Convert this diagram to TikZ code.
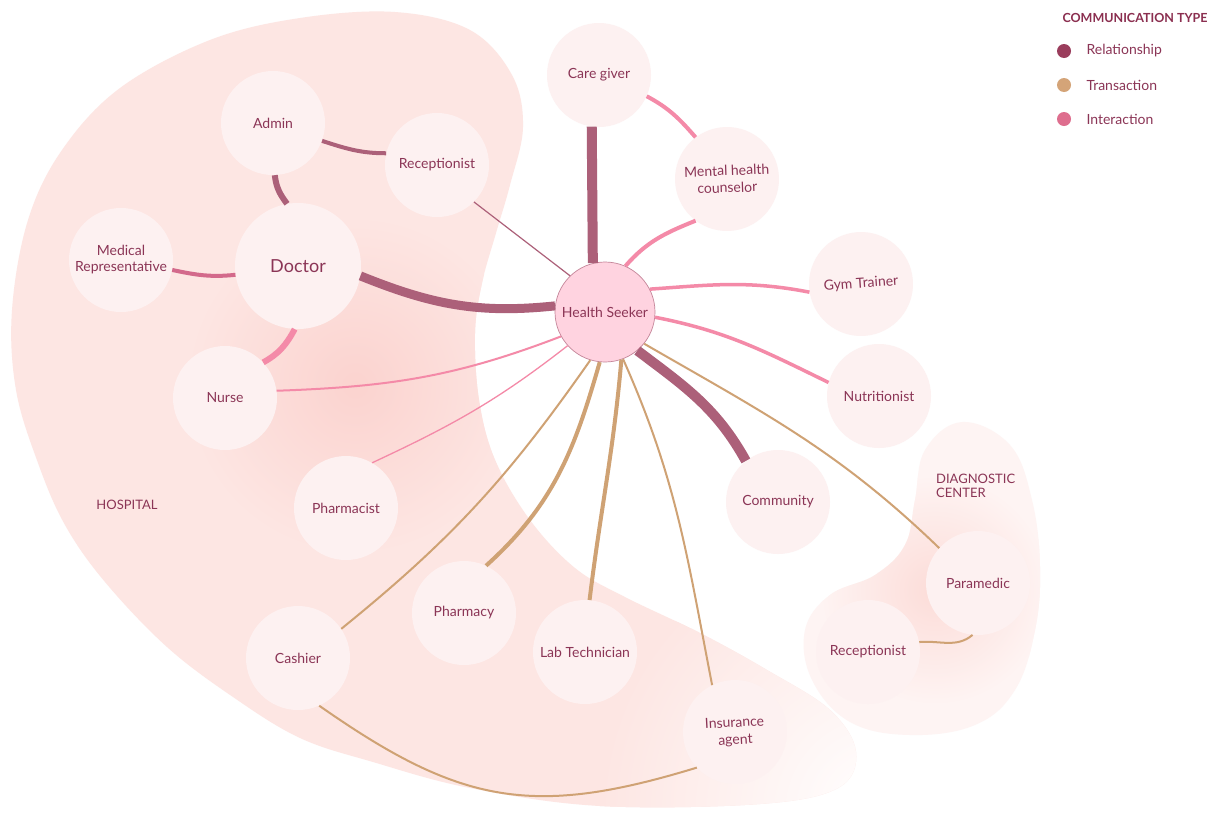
\documentclass[tikz,border=0pt]{standalone}
\usepackage{fontspec}
\setmainfont{Lato}
\usetikzlibrary{calc}
\definecolor{txt}{HTML}{8B3556}
\definecolor{titlec}{HTML}{8B2F50}
\definecolor{nodefill}{HTML}{FDF1F1}
\definecolor{hsfill}{HTML}{FFD3E0}
\definecolor{hsborder}{HTML}{C48599}
\definecolor{relc}{HTML}{AC6079}
\definecolor{transc}{HTML}{CFA274}
\definecolor{intc}{HTML}{F48AA8}
\definecolor{medc}{HTML}{D3698B}
\definecolor{legrel}{HTML}{9A3D5C}
\definecolor{legtrans}{HTML}{D4A478}
\definecolor{legint}{HTML}{DE6E8E}
\definecolor{hosp}{HTML}{FDE6E3}
\definecolor{hospdark}{HTML}{FBD3CF}
\definecolor{diag}{HTML}{FEF4F3}
\definecolor{diagdark}{HTML}{FCDCD8}
\begin{document}
\begin{tikzpicture}[x=1pt,y=1pt,
  person/.style={circle, fill=nodefill, minimum size=104pt, inner sep=0pt,
    text=txt, font=\fontsize{14}{16}\selectfont, align=center},
  rel/.style={draw=relc},
  trans/.style={draw=transc},
  inter/.style={draw=intc},
  legdot/.style={circle, minimum size=14pt, inner sep=0pt},
  legtext/.style={anchor=west, text=txt, font=\fontsize{14}{16}\selectfont},
  area/.style={text=txt, font=\fontsize{13}{14}\selectfont, align=left}]
\fill[white] (0,0) rectangle (1220,-812);
\useasboundingbox (0,0) rectangle (1220,-812);

% hospital blob
\def\hospblob{plot[smooth cycle, tension=0.6] coordinates {
 (395,-12) (470,-30) (512,-75) (523,-127) (510,-185) (496,-233) (482,-283)
 (475,-333) (479,-400) (495,-460) (530,-520) (575,-568) (625,-597) (700,-633)
 (767,-670) (830,-710) (856,-752) (838,-788) (760,-804) (600,-806) (470,-788)
 (373,-762) (300,-738) (233,-697) (167,-647) (105,-582) (65,-525) (38,-463)
 (16,-390) (12,-310) (28,-220) (62,-150) (120,-88) (210,-40) (300,-18)}}
\fill[hosp] \hospblob;
\begin{scope}
  \clip \hospblob;
  \shade[inner color=white, outer color=hosp] (880,-812) circle (280);
  \shade[inner color=hospdark, outer color=hosp] (355,-385) circle (170);
\end{scope}

% diagnostic blob
\def\diagblob{plot[smooth cycle, tension=0.65] coordinates {
 (962,-422) (1010,-445) (1032,-500) (1040,-567) (1035,-630) (1015,-690)
 (975,-725) (910,-735) (850,-722) (812,-680) (805,-630) (830,-595)
 (875,-575) (905,-545) (915,-500) (925,-450)}}
\fill[diag] \diagblob;
\begin{scope}
  \clip \diagblob;
  \shade[inner color=diagdark, outer color=diag] (935,-590) circle (115);
\end{scope}

% nodes
\node[person, fill=hsfill, draw=hsborder, line width=0.7pt, minimum size=100pt] (hs) at (605,-312) {Health Seeker};
\node[person] (cg) at (599,-75) {Care giver};
\node[person, rotate=2, font=\fontsize{14}{17}\selectfont] (mh) at (727,-179) {Mental health\\counselor};
\node[person, rotate=4] (gym) at (861,-284) {Gym Trainer};
\node[person] (nut) at (879,-396) {Nutritionist};
\node[person] (com) at (778,-502) {Community};
\node[person] (para) at (978,-583) {Paramedic};
\node[person] (rec2) at (868,-652) {Receptionist};
\node[person, rotate=3, font=\fontsize{14}{17}\selectfont] (ins) at (735,-732) {Insurance\\agent};
\node[person] (lab) at (585,-652) {Lab Technician};
\node[person] (phy) at (464,-613) {Pharmacy};
\node[person] (cash) at (298,-658) {Cashier};
\node[person] (phc) at (346,-508) {Pharmacist};
\node[person] (nur) at (225,-398) {Nurse};
\node[person, minimum size=126pt, font=\fontsize{18}{20}\selectfont] (doc) at (298,-266) {Doctor};
\node[person] (med) at (121,-260) {Medical\\Representative};
\node[person] (adm) at (273,-123) {Admin};
\node[person] (rec1) at (437,-165) {Receptionist};

% area labels
\node[area] (hlab) at (127,-505) {HOSPITAL};
\node[area, anchor=north west, inner sep=0pt] (dlab) at (936,-474) {DIAGNOSTIC\\CENTER};

% connectors
\draw[rel, line width=10pt] (cg.262) -- (hs.104);
\draw[inter, line width=4pt] (cg.-24) to[out=-28, in=131] (mh.125);
\draw[inter, line width=4pt] (mh.231) to[out=202, in=49] (hs.66);
\draw[inter, line width=3.5pt] (hs.27) to[out=4, in=169] (gym.185);
\draw[inter, line width=3.5pt] (hs.-6) to[out=-11, in=154] (nut.165);
\draw[rel, line width=10pt] (hs.-50) to[out=-37, in=119] (com.128);
\draw[trans, line width=2pt] (hs.-39) to[out=-30, in=136] (para.138);
\draw[trans, line width=2pt] (hs.-69) to[out=-66, in=101] (ins.113);
\draw[trans, line width=4pt] (hs.-71) to[out=-95, in=83] (lab.85);
\draw[trans, line width=4pt] (hs.-96) to[out=-106, in=42] (phy.65);
\draw[trans, line width=2pt] (hs.-107) to[out=-125, in=39] (cash.34);
\draw[inter, line width=1.3pt] (hs.222) to[out=218, in=25] (phc.60);
\draw[inter, line width=2pt] (hs.209) to[out=201, in=2] (nur.8);
\draw[rel, line width=9pt] (doc.-9) to[out=-22, in=186] (hs.173);
\draw[rel, line width=1.2pt] (rec1.-45) -- (hs.134);
\draw[rel, line width=4pt] (adm.-20) to[out=-18, in=180] (rec1.167);
\draw[rel, line width=6pt] (adm.-88) to[out=-84, in=127] (doc.100);
\draw[medc, line width=4pt] (med.-11) to[out=-12, in=186] (doc.188);
\draw[inter, line width=6pt] (doc.-93) to[out=242, in=29] (nur.43);
\draw[trans, line width=2pt] (cash.-66) to[out=-35, in=197, looseness=1.15] (ins.220);
\draw[trans, line width=2pt] (para.-96) to[out=-140, in=5] (rec2.11);

% legend
\node[anchor=west, text=titlec, font=\bfseries\fontsize{12.5}{14}\selectfont] (lt) at (1059,-18) {COMMUNICATION TYPE};
\node[legdot, fill=legrel] (d1) at (1064,-51) {};
\node[legdot, fill=legtrans] (d2) at (1064,-85) {};
\node[legdot, fill=legint] (d3) at (1064,-119) {};
\node[legtext] (l1) at (1083,-51) {Relationship};
\node[legtext] (l2) at (1083,-85) {Transaction};
\node[legtext] (l3) at (1083,-119) {Interaction};
\end{tikzpicture}
\end{document}
